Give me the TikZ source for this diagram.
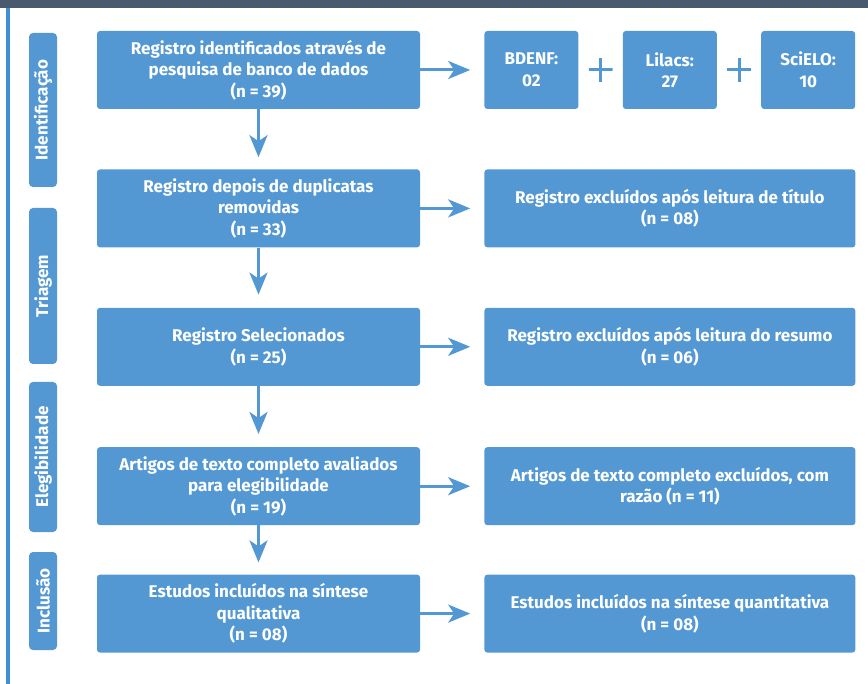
\documentclass[tikz,border=0pt]{standalone}
\usepackage{fontspec}
\setmainfont{Fira Sans}
\usepackage{tikz}
\usetikzlibrary{arrows.meta, positioning, calc}
\definecolor{boxblue}{HTML}{5398D3}
\definecolor{railblue}{HTML}{3F8FD4}
\definecolor{barslate}{HTML}{4A5A6E}

\begin{document}
\begin{tikzpicture}[
        x=1pt, y=1pt,
        font=\bfseries\fontsize{17}{21.5}\selectfont,
        stepbox/.style={rectangle, rounded corners=3pt, fill=boxblue, text=white, align=center, minimum width=323pt, minimum height=78pt, inner sep=2pt},
        outbox/.style={stepbox, minimum width=371pt},
        dbbox/.style={stepbox, minimum width=94pt},
        sidelabel/.style={rectangle, rounded corners=4pt, fill=boxblue, text=white, rotate=90, minimum height=28pt, inner sep=1pt},
        plus/.style={minimum size=24pt, inner sep=0pt, path picture={
            \draw[boxblue, line width=3pt] (path picture bounding box.north) -- (path picture bounding box.south)
                (path picture bounding box.west) -- (path picture bounding box.east);}},
        arrow/.style={boxblue, line width=3pt, -{Stealth[length=22pt, width=18pt, inset=6pt]}}
    ]
        \useasboundingbox (0,0) rectangle (868,-684);

        % Frame
        \fill[barslate] (0,0) rectangle (868,-8);
        \draw[railblue, line width=3.5pt] (8,-8) -- (8,-684);

        % Phases
        \node[sidelabel, minimum width=154pt] (identificacao) at (43,-110) {Identificação};
        \node[sidelabel, minimum width=156pt] (triagem) at (43,-286) {Triagem};
        \node[sidelabel, minimum width=150pt] (elegibilidade) at (43,-457) {Elegibilidade};
        \node[sidelabel, minimum width=98pt] (inclusao) at (43,-601) {Inclusão};

        % Main flow
        \node[stepbox] (identified) at (258.5,-70) {Registro identificados através de\\pesquisa de banco de dados\\(n = 39)};
        \node[stepbox, below=60pt of identified] (dedup) {Registro depois de duplicatas\\removidas\\(n = 33)};
        \node[stepbox, below=60pt of dedup] (selected) {Registro Selecionados\\(n = 25)};
        \node[stepbox, below=61pt of selected] (fulltext) {Artigos de texto completo avaliados\\para elegibilidade\\(n = 19)};
        \node[stepbox, below=49pt of fulltext] (qualitative) {Estudos incluídos na síntese\\qualitativa\\(n = 08)};

        % Databases
        \node[dbbox, right=64pt of identified] (bdenf) {BDENF:\\02};
        \node[dbbox, right=44pt of bdenf] (lilacs) {Lilacs:\\27};
        \node[dbbox, right=44pt of lilacs] (scielo) {SciELO:\\10};
        \node[plus] (plus1) at ($(bdenf.east)!0.5!(lilacs.west)$) {};
        \node[plus] (plus2) at ($(lilacs.east)!0.5!(scielo.west)$) {};

        % Exclusions
        \node[outbox, right=64pt of dedup] (excltitle) {Registro excluídos após leitura de título\\(n = 08)};
        \node[outbox, right=64pt of selected] (exclabstract) {Registro excluídos após leitura do resumo\\(n = 06)};
        \node[outbox, right=64pt of fulltext] (exclfull) {Artigos de texto completo excluídos, com\\razão (n = 11)};
        \node[outbox, right=64pt of qualitative] (quantitative) {Estudos incluídos na síntese quantitativa\\(n = 08)};

        % Arrows
        \draw[arrow, shorten >=12pt] (identified) -- (dedup);
        \draw[arrow, shorten >=13pt] (dedup) -- (selected);
        \draw[arrow, shorten >=13pt] (selected) -- (fulltext);
        \draw[arrow, shorten >=12pt] (fulltext) -- (qualitative);
        \draw[arrow, shorten >=14pt] (identified) -- (bdenf);
        \draw[arrow, shorten >=14pt] (dedup) -- (excltitle);
        \draw[arrow, shorten >=14pt] (selected) -- (exclabstract);
        \draw[arrow, shorten >=14pt] (fulltext) -- (exclfull);
        \draw[arrow, shorten >=14pt] (qualitative) -- (quantitative);
    \end{tikzpicture}
\end{document}
